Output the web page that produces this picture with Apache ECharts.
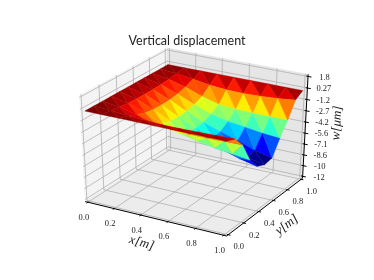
<!DOCTYPE html>
<html>
<head>
<meta charset="utf-8">
<style>html,body{margin:0;padding:0;background:#fff}#c{width:374px;height:280px}</style>
<script src="https://cdn.jsdelivr.net/npm/echarts@6/dist/echarts.min.js"></script>
</head>
<body>
<div id="c"></div>
<script>
var xNodes = [0, 0.125, 0.25, 0.375, 0.5, 0.625, 0.75, 0.875, 1];
var yNodes = [0, 0.1, 0.2, 0.3, 0.4, 0.5, 0.6, 0.7, 0.8, 0.9, 1];
var w00 = [0, 0, 0, 0, 0, 0, 0, 0, 0];
var w01 = [0, -0.12, -0.3, -0.45, -0.55, -0.55, -0.5, -0.45, -0.4];
var w02 = [0, -0.3, -0.8, -1.35, -1.75, -1.9, -1.9, -1.85, -1.8];
var w03 = [0, -0.45, -1.2, -2.1, -2.9, -3.4, -3.8, -4.1, -4.4];
var w04 = [0, -0.5, -1.4, -2.45, -3.4, -4.1, -4.7, -5.4, -5.9];
var w05 = [0, -0.5, -1.45, -2.55, -3.55, -4.4, -5.1, -5.95, -6.4];
var w06 = [0, -0.5, -1.4, -2.45, -3.45, -4.2, -4.9, -5.7, -6.2];
var w07 = [0, -0.45, -1.25, -2.2, -3, -3.5, -3.8, -4.1, -4.3];
var w08 = [0, -0.35, -0.95, -1.75, -2.35, -2.55, -2.6, -2.6, -2.6];
var w09 = [0, -0.18, -0.5, -0.85, -1.05, -1.1, -1, -0.85, -0.6];
var w10 = [0, 0, 0, 0, 0, 0, 0, 0, 0];
var xTicks = [0, 0.2, 0.4, 0.6, 0.8, 1];
var xTickLabels = ['0.0', '0.2', '0.4', '0.6', '0.8', '1.0'];
var yTicks = [0, 0.2, 0.4, 0.6, 0.8, 1];
var yTickLabels = ['0.0', '0.2', '0.4', '0.6', '0.8', '1.0'];
var zTicks = [1.75, 0.27, -1.21, -2.69, -4.17, -5.65, -7.13, -8.61, -10.09, -11.57];
var zTickLabels = ['1.8', '0.27', '-1.2', '-2.7', '-4.2', '-5.6', '-7.1', '-8.6', '-10', '-12'];
var titleText = 'Vertical displacement';

var wRows = [w00, w01, w02, w03, w04, w05, w06, w07, w08, w09, w10];
var zLo = -11.57, zHi = 1.75, PAD = 1 / 48;
var SX = 1567, SY = 1165, CX = 195.6, CY = 138.5, DIST = 10;

function project(x, y, z) {
  var nz = (z - zLo) / (zHi - zLo);
  var px = x - 0.5, py = y - 0.5, pz = nz - 0.5;
  var u = 0.866025 * px + 0.5 * py;
  var v = -0.25 * px + 0.433013 * py + 0.866025 * pz;
  var n = 0.433013 * px - 0.75 * py + 0.5 * pz;
  var d = DIST - n;
  return { p: [CX + SX * u / d, CY - SY * v / d], d: d };
}
function P(x, y, z) { return project(x, y, z).p; }
function lerp(stops, t) {
  for (var i = 1; i < stops.length; i++) {
    if (t <= stops[i][0]) {
      var a = stops[i - 1], b = stops[i];
      return a[1] + (b[1] - a[1]) * (t - a[0]) / (b[0] - a[0]);
    }
  }
  return stops[stops.length - 1][1];
}
function jet(t) {
  t = Math.max(0, Math.min(1, t));
  var r = lerp([[0, 0], [0.35, 0], [0.66, 1], [0.89, 1], [1, 0.5]], t);
  var g = lerp([[0, 0], [0.125, 0], [0.375, 1], [0.64, 1], [0.91, 0], [1, 0]], t);
  var b = lerp([[0, 0.5], [0.11, 1], [0.34, 1], [0.65, 0], [1, 0]], t);
  return 'rgb(' + Math.round(r * 255) + ',' + Math.round(g * 255) + ',' + Math.round(b * 255) + ')';
}

// surface triangles, far to near
var tris = [];
function addTri(a, b, c) {
  var pts = [a, b, c].map(function (q) { return project(xNodes[q[0]], yNodes[q[1]], wRows[q[1]][q[0]]); });
  var avg = (wRows[a[1]][a[0]] + wRows[b[1]][b[0]] + wRows[c[1]][c[0]]) / 3;
  tris.push({ pts: pts.map(function (q) { return q.p; }), d: (pts[0].d + pts[1].d + pts[2].d) / 3, avg: avg });
}
for (var j = 0; j < yNodes.length - 1; j++) {
  for (var i = 0; i < xNodes.length - 1; i++) {
    addTri([i, j], [i + 1, j], [i, j + 1]);
    addTri([i + 1, j], [i + 1, j + 1], [i, j + 1]);
  }
}
var zMin = Infinity, zMax = -Infinity;
tris.forEach(function (t) { zMin = Math.min(zMin, t.avg); zMax = Math.max(zMax, t.avg); });
tris.forEach(function (t) { t.color = jet((t.avg - zMin) / (zMax - zMin)); });
tris.sort(function (a, b) { return b.d - a.d; });

var x0 = -PAD, x1 = 1 + PAD, y0 = -PAD, y1 = 1 + PAD;
var zr = (zHi - zLo) * PAD, z0 = zLo - zr, z1 = zHi + zr;

var panes = [
  { pts: [P(x0, y0, z0), P(x0, y1, z0), P(x0, y1, z1), P(x0, y0, z1)], color: '#f4f4f4' },
  { pts: [P(x0, y1, z0), P(x1, y1, z0), P(x1, y1, z1), P(x0, y1, z1)], color: '#e6e6e6' },
  { pts: [P(x0, y0, z0), P(x1, y0, z0), P(x1, y1, z0), P(x0, y1, z0)], color: '#ececec' }
];
var gridLines = [];
xTicks.forEach(function (x) { gridLines.push([P(x, y0, z0), P(x, y1, z0), P(x, y1, z1)]); });
yTicks.forEach(function (y) { gridLines.push([P(x1, y, z0), P(x0, y, z0), P(x0, y, z1)]); });
zTicks.forEach(function (z) { gridLines.push([P(x0, y0, z), P(x0, y1, z), P(x1, y1, z)]); });

var axisLines = [
  { pts: [P(x0, y0, z0), P(x1, y0, z0)], w: 1 },
  { pts: [P(x1, y0, z0), P(x1, y1, z0)], w: 1 },
  { pts: [P(x1, y1, z0), P(x1, y1, z1)], w: 1 }
];
xTicks.forEach(function (x) { axisLines.push({ pts: [P(x, y0 + 0.008, z0), P(x, y0 - 0.016, z0)], w: 1 }); });
yTicks.forEach(function (y) { axisLines.push({ pts: [P(x1 - 0.008, y, z0), P(x1 + 0.016, y, z0)], w: 1 }); });
zTicks.forEach(function (z) { axisLines.push({ pts: [P(x1 - 0.012, y1, z), P(x1 + 0.024, y1, z)], w: 1 }); });

var texts = [];
var tickFont = '8.5px "Liberation Serif"';
xTicks.forEach(function (x, k) {
  var q = P(x, y0, z0);
  texts.push({ t: xTickLabels[k], x: q[0] - 4, y: q[1] + 15.5, font: tickFont });
});
yTicks.forEach(function (y, k) {
  var q = P(x1, y, z0);
  texts.push({ t: yTickLabels[k], x: q[0] + 10.5, y: q[1] + 12.5, font: tickFont });
});
zTicks.forEach(function (z, k) {
  var q = P(x1, y1, z);
  texts.push({ t: zTickLabels[k], x: q[0] + 16.5, y: q[1] + 1, font: tickFont });
});
var labelFont = 'italic 13px "Liberation Serif"';
texts.push({ t: 'x[m]', x: 141.7, y: 243, font: labelFont, rot: -16 * Math.PI / 180 });
texts.push({ t: 'y[m]', x: 287, y: 225, font: labelFont, rot: 37 * Math.PI / 180 });
texts.push({ t: 'w[\u03bcm]', x: 337, y: 123, font: labelFont, rot: 86 * Math.PI / 180 });

function polySeries(list) {
  return {
    type: 'custom', coordinateSystem: 'cartesian2d', clip: false, silent: true, animation: false,
    data: list.map(function (_, k) { return [k]; }),
    encode: { x: 0 },
    renderItem: function (params, api) {
      var it = list[params.dataIndex];
      return {
        type: 'polygon',
        shape: { points: it.pts.map(function (q) { return api.coord(q); }) },
        style: { fill: it.color, stroke: it.color, lineWidth: 0.35 }
      };
    }
  };
}
function lineSeries(list, color) {
  return {
    type: 'custom', coordinateSystem: 'cartesian2d', clip: false, silent: true, animation: false,
    data: list.map(function (_, k) { return [k]; }),
    encode: { x: 0 },
    renderItem: function (params, api) {
      var it = list[params.dataIndex];
      var pts = it.pts || it;
      return {
        type: 'polyline',
        shape: { points: pts.map(function (q) { return api.coord(q); }) },
        style: { fill: null, stroke: color, lineWidth: it.w || 0.8 }
      };
    }
  };
}
var textSeries = {
  type: 'custom', coordinateSystem: 'cartesian2d', clip: false, silent: true, animation: false,
  data: texts.map(function (_, k) { return [k]; }),
  encode: { x: 0 },
  renderItem: function (params, api) {
    var it = texts[params.dataIndex];
    var c = api.coord([it.x, it.y]);
    return {
      type: 'text', x: c[0], y: c[1], rotation: it.rot || 0,
      style: { text: it.t, font: it.font, fill: '#222', textAlign: 'center', textVerticalAlign: 'middle' }
    };
  }
};

var chart = echarts.init(document.getElementById('c'), null, { renderer: 'canvas' });
chart.setOption({
  animation: false,
  backgroundColor: '#fff',
  title: {
    text: titleText, left: 'center', top: 34.5, padding: 0,
    textStyle: { fontFamily: 'Lato', fontWeight: 'normal', fontSize: 12.5, color: '#222' }
  },
  grid: { left: 0, top: 0, width: 374, height: 280 },
  xAxis: { type: 'value', min: 0, max: 374, show: false },
  yAxis: { type: 'value', min: 0, max: 280, inverse: true, show: false },
  series: [polySeries(panes), lineSeries(gridLines, '#b0b0b0'), lineSeries(axisLines, '#000'), polySeries(tris), textSeries]
});
</script>
</body>
</html>
